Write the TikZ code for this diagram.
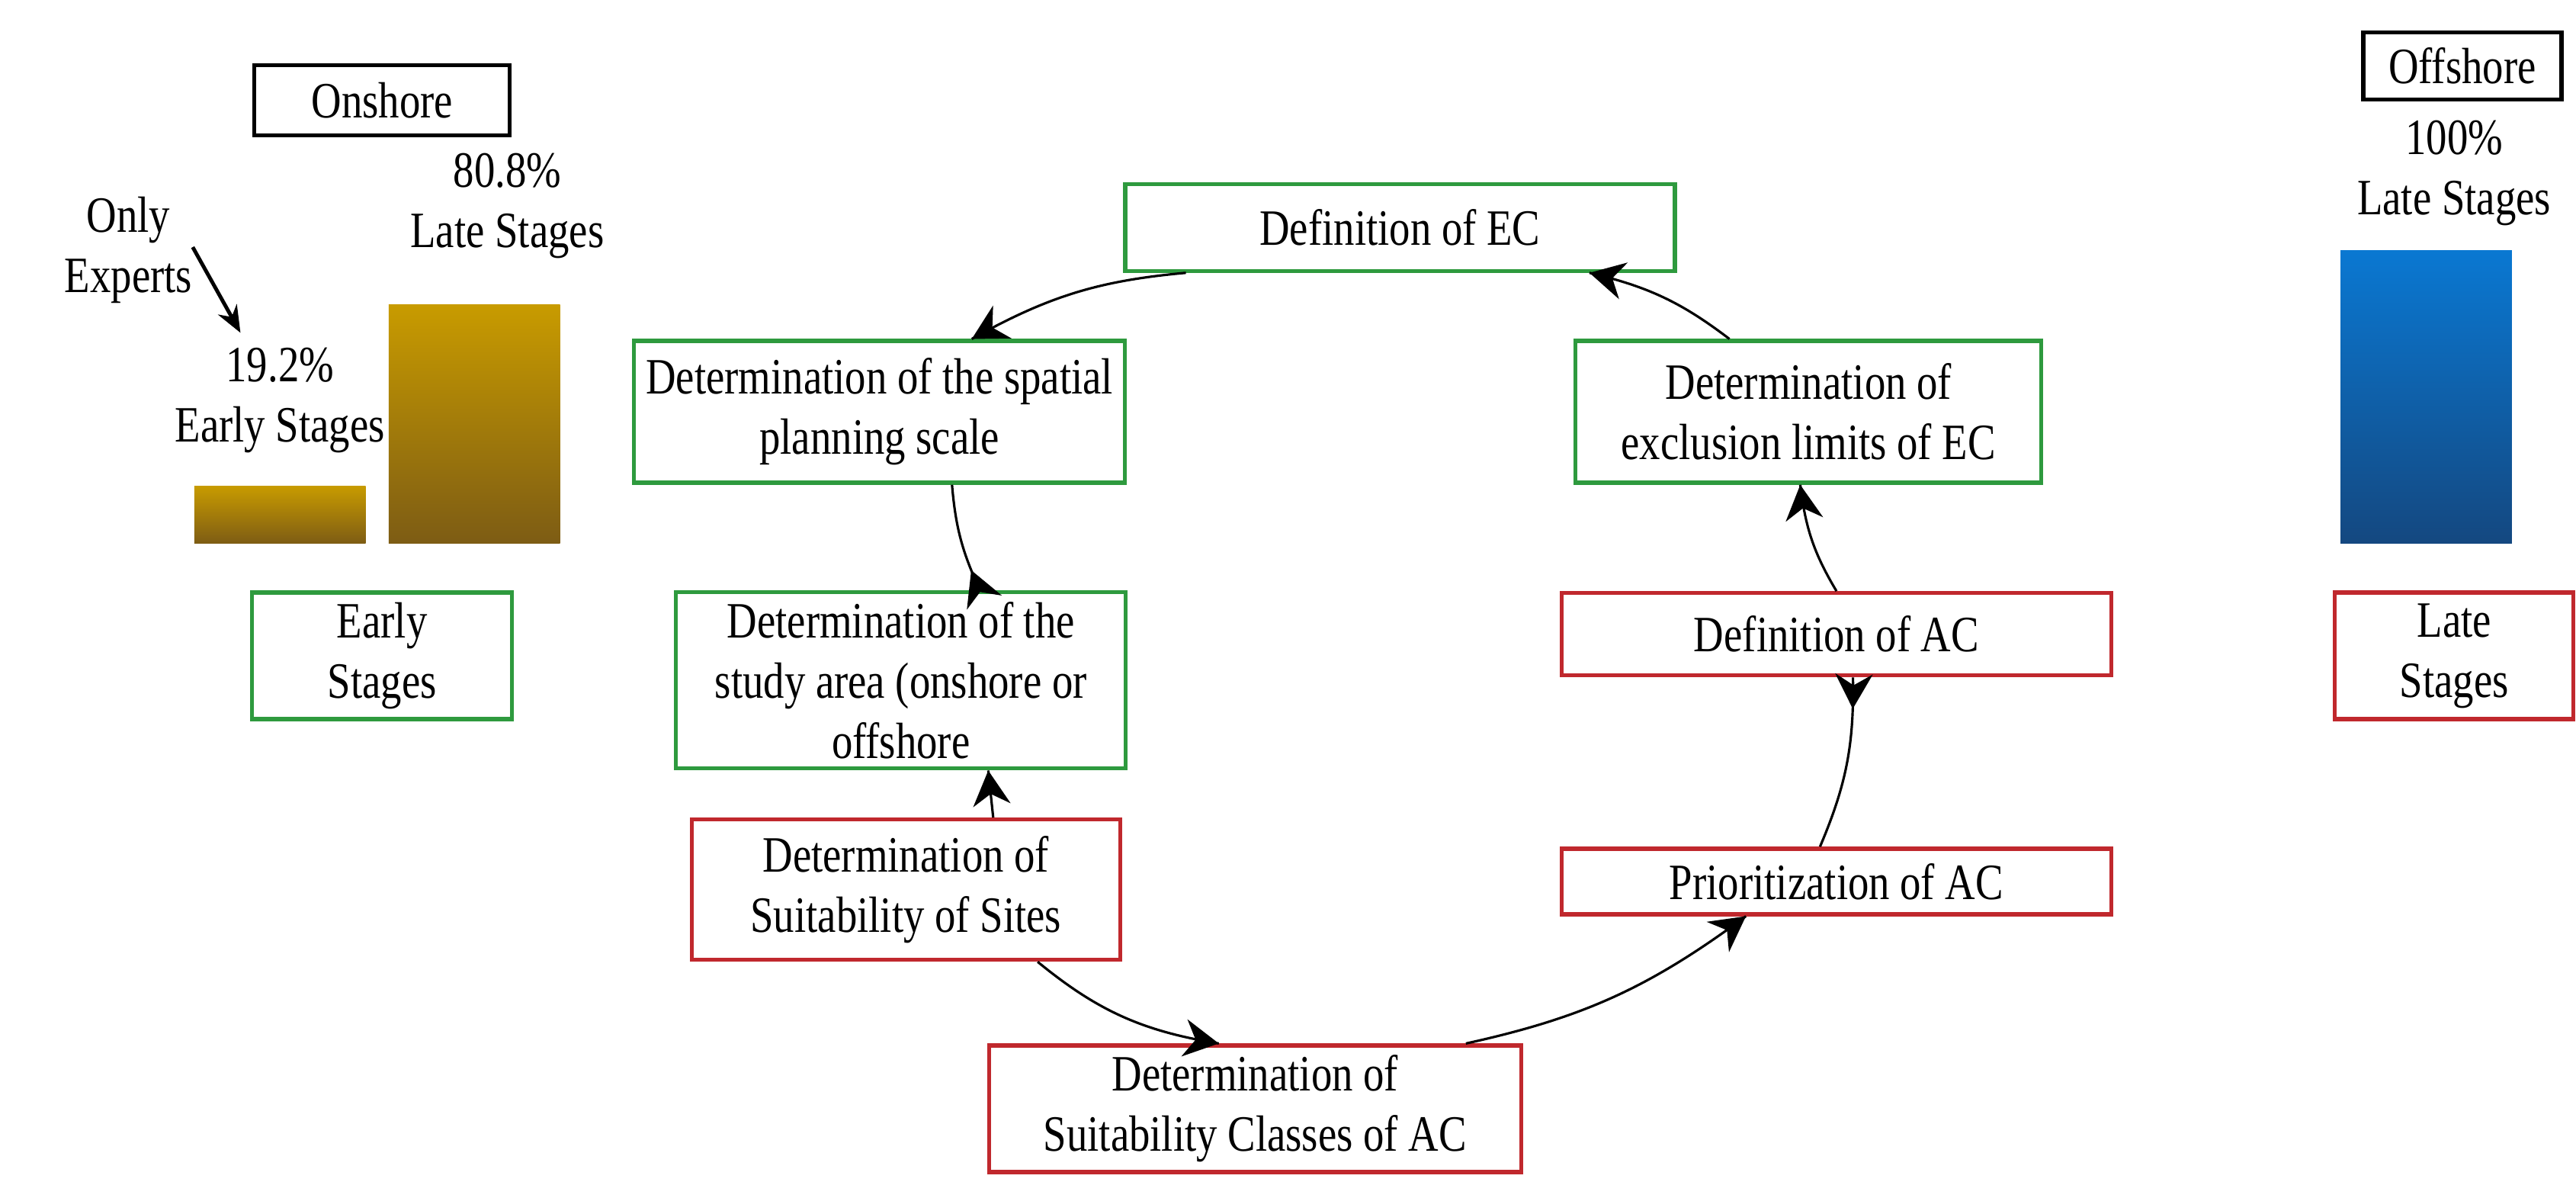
\documentclass[tikz,border=0pt]{standalone}
\usepackage{fontspec}
\setmainfont{Liberation Serif}[FakeStretch=0.82]
\usetikzlibrary{arrows.meta,decorations.markings,calc}
\definecolor{gbox}{HTML}{2E9A3E}
\definecolor{rbox}{HTML}{C0282D}
\tikzset{
  bx/.style={draw, line width=1.5pt, fill=white, align=center, inner sep=2pt, font=\fontsize{19}{22.5}\selectfont},
  gb/.style={bx, draw=gbox},
  rb/.style={bx, draw=rbox},
  lbl/.style={align=center, font=\fontsize{19}{22.5}\selectfont},
  con/.style={line width=0.9pt},
  tipat/.style={postaction={decorate}, decoration={markings, mark=at position #1 with {\arrow{Stealth[length=13pt,width=14pt]}}}},
}
\begin{document}
\begin{tikzpicture}[x=0.0216cm,y=-0.0216cm]
\useasboundingbox (0,0) rectangle (1564,727);
% left panel
\node[bx, minimum width=3.35cm, minimum height=0.92cm] (on) at (232,61) {Onshore};
\node[lbl] (oe) at (78,152) {Only\\Experts};
\node[lbl] (p19) at (170,243) {19.2\%\\Early Stages};
\node[lbl] (p80) at (308,125) {80.8\%\\Late Stages};
\coordinate (oa1) at (117,150);
\coordinate (oa2) at (146,202);
\draw[line width=1.4pt,-{Stealth[length=10pt,width=8pt]}] (oa1) -- (oa2);
\shade[top color={rgb,255:red,200;green,155;blue,0}, bottom color={rgb,255:red,125;green,92;blue,20}] (118,295) rectangle (222,330);
\shade[top color={rgb,255:red,200;green,155;blue,0}, bottom color={rgb,255:red,125;green,92;blue,20}] (236,185) rectangle (340,330);
\node[gb, minimum width=3.41cm, minimum height=1.66cm] (es) at (232,398) {Early\\Stages};
% right panel
\node[bx, minimum width=2.6cm, minimum height=0.88cm] (off) at (1495,40) {Offshore};
\node[lbl] (p100) at (1490,105) {100\%\\Late Stages};
\shade[top color={rgb,255:red,10;green,120;blue,210}, bottom color={rgb,255:red,20;green,72;blue,128}] (1421,152) rectangle (1525,330);
\node[rb, minimum width=3.13cm, minimum height=1.66cm] (ls) at (1490,398) {Late\\Stages};
% cycle
\node[gb, minimum width=7.21cm, minimum height=1.14cm] (ec) at (850,138) {Definition of EC};
\node[gb, minimum width=6.44cm, minimum height=1.86cm] (sp) at (534,250) {Determination of the spatial\\planning scale};
\node[gb, minimum width=6.11cm, minimum height=1.86cm] (ex) at (1098,250) {Determination of\\exclusion limits of EC};
\node[gb, minimum width=5.9cm, minimum height=2.31cm] (st) at (547,413) {Determination of the\\study area (onshore or\\offshore};
\node[rb, minimum width=7.21cm, minimum height=1.08cm] (ac) at (1115,385) {Definition of AC};
\node[rb, minimum width=5.62cm, minimum height=1.84cm] (si) at (550,540) {Determination of\\Suitability of Sites};
\node[rb, minimum width=7.21cm, minimum height=0.86cm] (pr) at (1115,535) {Prioritization of AC};
\node[rb, minimum width=6.98cm, minimum height=1.66cm] (cl) at (762,673) {Determination of\\Suitability Classes of AC};
% connectors
\draw[con, tipat=1] ($(ec.south)+(-130,0)$) to[bend right=12] ($(sp.north)+(56,0)$);
\draw[con, tipat=1] ($(ex.north)+(-48,0)$) to[bend right=12] ($(ec.south)+(115,0)$);
\draw[con, tipat=1] (ac.north) to[bend left=12] ($(ex.south)+(-5,0)$);
\draw[con, tipat=0.2] ($(st.north)+(48,0)$) to[bend left=10] ($(sp.south)+(44,0)$);
\draw[con, tipat=1] ($(si.north)+(53,0)$) -- ($(st.south)+(53,0)$);
\draw[con, tipat=1] ($(si.south)+(80,0)$) to[bend right=15] ($(cl.north)+(-22,0)$);
\draw[con, tipat=1] ($(cl.north)+(128,0)$) to[bend right=12] ($(pr.south)+(-55,0)$);
\draw[con, tipat=0.18] ($(ac.south)+(10,0)$) to[bend left=12] ($(pr.north)+(-10,0)$);
\end{tikzpicture}
\end{document}
